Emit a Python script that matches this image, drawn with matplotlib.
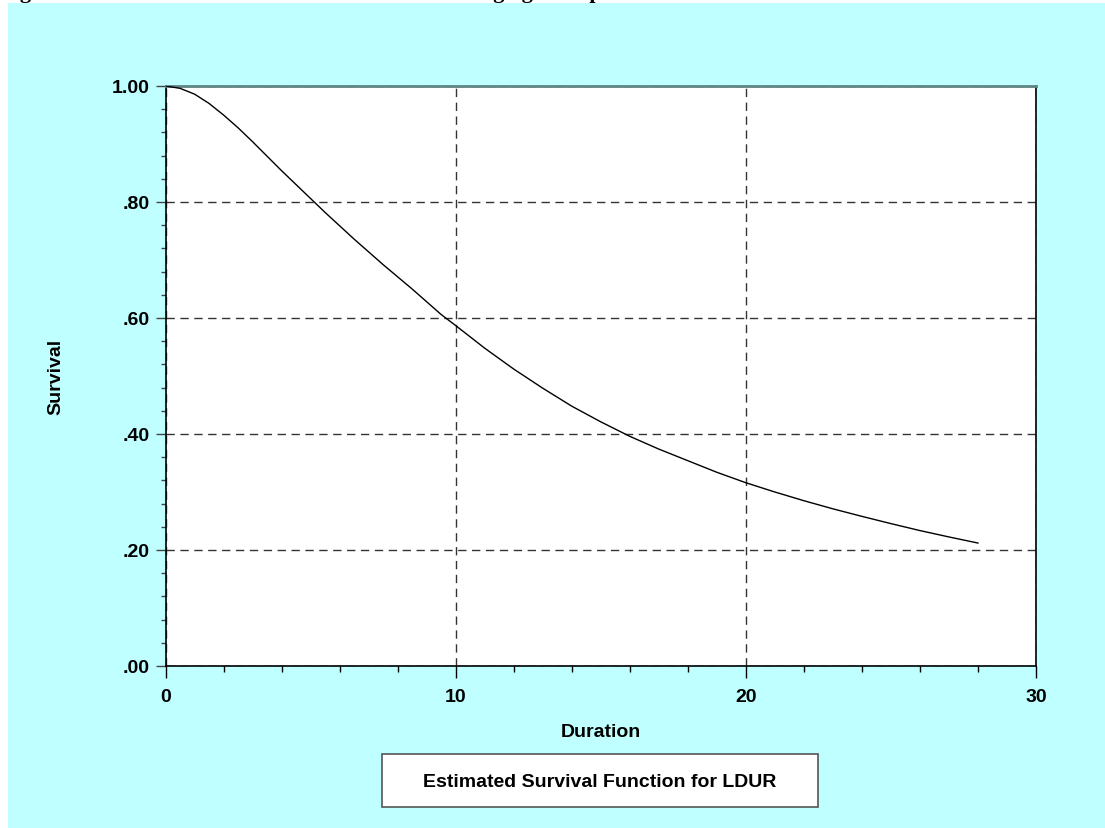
import matplotlib
matplotlib.use('Agg')
import matplotlib.pyplot as plt
from matplotlib.patches import Rectangle
from matplotlib.ticker import MultipleLocator, FuncFormatter

plt.rcParams['font.family'] = ['Liberation Sans', 'DejaVu Sans']

# 读取的数据 (估计生存函数)
duration = [0, 0.5, 1, 1.5, 2, 2.5, 3, 3.5, 4, 4.5, 5, 5.5, 6, 6.5, 7, 7.5, 8, 8.5,
            9, 9.5, 10, 11, 12, 13, 14, 15, 16, 17, 18, 19, 20, 21, 22, 23, 24,
            25, 26, 27, 28]
survival = [1.000, 0.996, 0.986, 0.970, 0.950, 0.928, 0.904, 0.879, 0.854, 0.830,
            0.806, 0.782, 0.759, 0.736, 0.714, 0.692, 0.671, 0.650, 0.628, 0.606,
            0.587, 0.548, 0.512, 0.479, 0.448, 0.421, 0.396, 0.374, 0.354, 0.334,
            0.316, 0.300, 0.285, 0.271, 0.258, 0.2455, 0.2335, 0.2225, 0.212]
x_ticks = [0, 10, 20, 30]
y_ticks = [0.0, 0.2, 0.4, 0.6, 0.8, 1.0]
legend_text = 'Estimated Survival Function for LDUR'
title_text = 'Figure 17.6  Estimated Survival Function for the Loglogistic Specification'

W, H = 1105, 829
fig = plt.figure(figsize=(W / 100, H / 100), dpi=100, facecolor='white')

# 青色背景
fig.patches.append(Rectangle((8 / W, 0), 1 - 8 / W, 1 - 4 / H, transform=fig.transFigure,
                             facecolor='#c0ffff', edgecolor='none', zorder=-10))
# 被裁掉的标题
fig.text(0.0, 1 + 2 / H, title_text, family=['Liberation Serif', 'DejaVu Serif'],
         fontsize=16, fontweight='bold', va='baseline', ha='left')

left, right, top, bottom = 165.5, 1036, 87, 667
ax = fig.add_axes([left / W, 1 - bottom / H, (right - left) / W, (bottom - top) / H])
ax.set_zorder(1)
ax.set_facecolor('white')

ax.plot(duration, survival, color='black', lw=1.0, zorder=3)

ax.set_xlim(0, 30)
ax.set_ylim(0, 1)
ax.set_xticks(x_ticks)
ax.set_yticks(y_ticks)
ax.xaxis.set_minor_locator(MultipleLocator(2))
ax.yaxis.set_minor_locator(MultipleLocator(0.04))
ax.yaxis.set_major_formatter(FuncFormatter(lambda v, p: '1.00' if v >= 1 else ('%.2f' % v)[1:]))

ax.grid(True, which='major', color='#333333', lw=1.0, linestyle=(0, (6, 4)))

ax.tick_params(axis='x', which='major', direction='out', length=8.5, width=1, pad=7,
               labelsize=14)
ax.tick_params(axis='x', which='minor', direction='out', length=4.3, width=1)
ax.tick_params(axis='y', which='major', direction='out', length=7.5, width=1, pad=4,
               labelsize=14, color='#444444')
ax.tick_params(axis='y', which='minor', direction='out', length=3.6, width=1, color='#444444')
for lab in ax.get_xticklabels() + ax.get_yticklabels():
    lab.set_fontweight('bold')

for s in ['left', 'bottom', 'right']:
    ax.spines[s].set_color('black')
    ax.spines[s].set_linewidth(1.2)
ax.spines['top'].set_color('#5f8585')
ax.spines['top'].set_linewidth(2)

ax.set_xlabel('Duration', fontsize=14, fontweight='bold', labelpad=13)
ax.set_ylabel('Survival', fontsize=14, fontweight='bold', labelpad=34)

# 图例框
fig.patches.append(Rectangle((382 / W, 1 - 808 / H), (818 - 382) / W, (808 - 755) / H,
                             transform=fig.transFigure, facecolor='white',
                             edgecolor='#555555', lw=1.2, zorder=2))
fig.text(600 / W, 1 - 783 / H, legend_text, fontsize=14, fontweight='bold',
         ha='center', va='center', zorder=3)

fig.savefig('out.png', dpi=100)
